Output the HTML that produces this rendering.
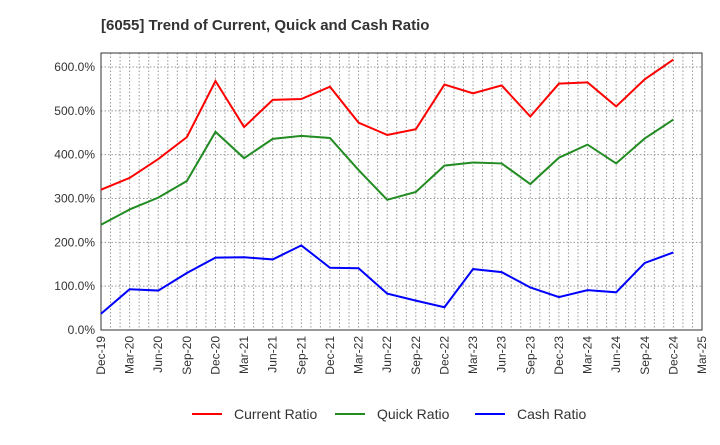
<!DOCTYPE html>
<html><head><meta charset="utf-8"><style>body{margin:0;background:#fff}svg{font-family:"Liberation Sans",sans-serif}</style></head>
<body>
<svg id="c" width="720" height="440"></svg>
<script>
const categories=["Dec-19","Mar-20","Jun-20","Sep-20","Dec-20","Mar-21","Jun-21","Sep-21","Dec-21","Mar-22","Jun-22","Sep-22","Dec-22","Mar-23","Jun-23","Sep-23","Dec-23","Mar-24","Jun-24","Sep-24","Dec-24","Mar-25"];
const currentRatio=[320,347,390,440,568,463,525,527,555,473,445,458,560,540,558,487,562,565,510,572,617];
const quickRatio=[240,275,302,340,452,392,436,443,438,365,297,315,375,382,380,333,393,423,380,437,480];
const cashRatio=[37,93,90,130,165,166,161,193,142,141,83,67,52,139,132,97,75,91,86,153,177];
const yTicks=[0,100,200,300,400,500,600];
const ns="http://www.w3.org/2000/svg",svg=document.getElementById("c");
const L=101,R=702,T=53,B=330;
const x=i=>L+i*(R-L)/21, y=v=>B-v*(330-67)/600;
function mk(t,a,p){const e=document.createElementNS(ns,t);for(const k in a)e.setAttribute(k,a[k]);(p||svg).appendChild(e);return e;}
const tt=mk("text",{x:101,y:30,"font-size":15,"font-weight":"bold",fill:"#333"});tt.textContent="[6055]  Trend of Current, Quick and Cash Ratio";


for(let m=1;m<63;m++){const g=mk("line",{x1:L+m*(R-L)/63,x2:L+m*(R-L)/63,y1:T,y2:B,stroke:"#999","stroke-dasharray":"1.5,2"});

}
yTicks.forEach(v=>{const g=mk("line",{x1:L,x2:R,y1:y(v),y2:y(v),stroke:"#999","stroke-dasharray":"1.5,2"});


const t=mk("text",{x:L-6,y:y(v)+4,"text-anchor":"end","font-size":12,fill:"#333"});t.textContent=v.toFixed(1)+"%";

});
const fr=mk("rect",{x:L,y:T,width:R-L,height:B-T,fill:"none",stroke:"#333"});


categories.forEach((c,i)=>{const t=mk("text",{transform:`translate(${x(i)+4},${B+6}) rotate(-90)`,"text-anchor":"end","font-size":12,fill:"#333"});t.textContent=c;

});
const series=[["Current Ratio",currentRatio,"#f00"],["Quick Ratio",quickRatio,"#228b22"],["Cash Ratio",cashRatio,"#00f"]];
const lx=[192,335,475];
series.forEach((s,k)=>{const p=mk("polyline",{points:s[1].map((v,i)=>x(i)+","+y(v)).join(" "),fill:"none",stroke:s[2],"stroke-width":2});


const g=mk("g",{});


mk("line",{x1:lx[k],x2:lx[k]+30,y1:414,y2:414,stroke:s[2],"stroke-width":2},g);
const t=mk("text",{x:lx[k]+42,y:419,"font-size":14,fill:"#333"},g);t.textContent=s[0];});
</script>
</body></html>
